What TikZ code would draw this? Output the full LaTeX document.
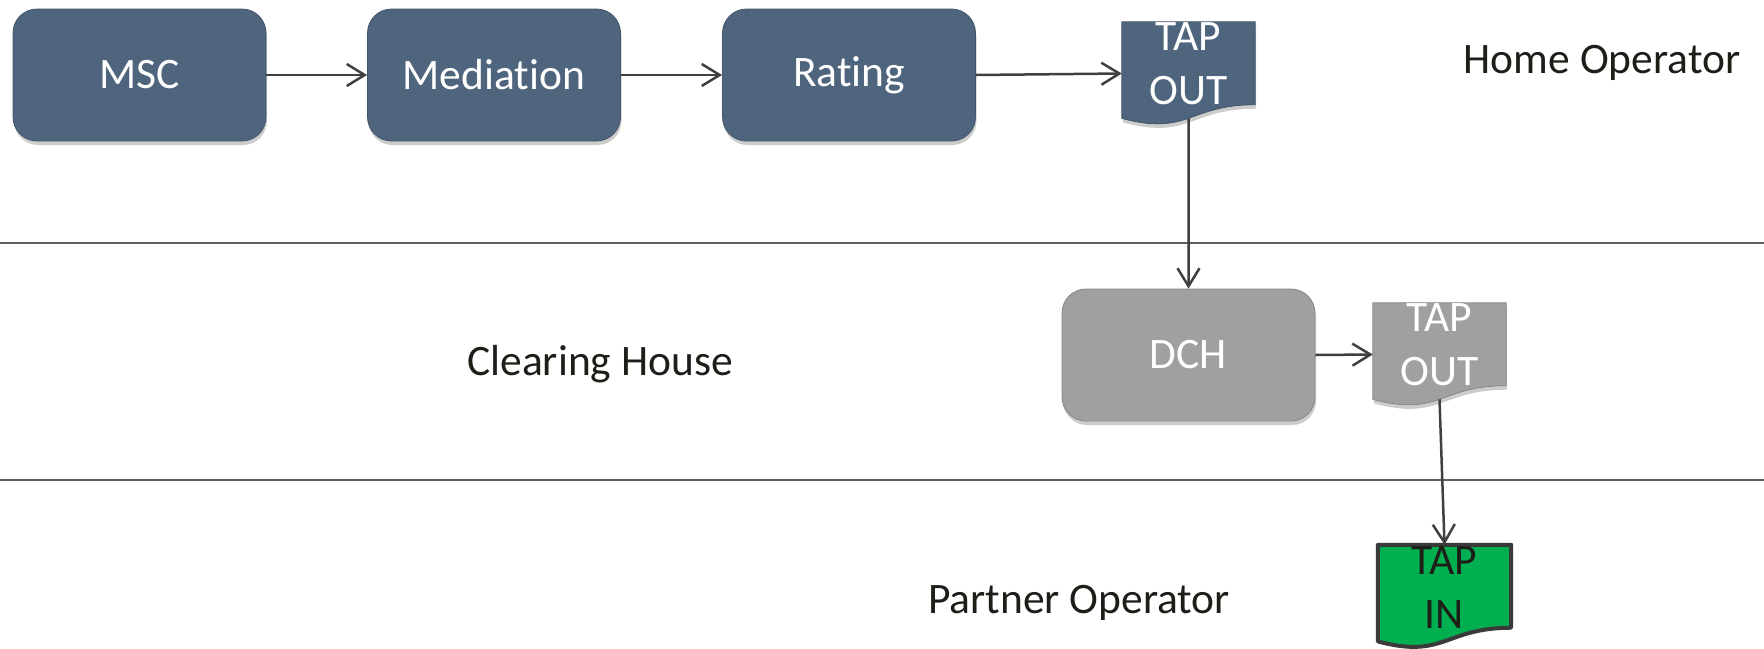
\documentclass[tikz,border=0pt]{standalone}
\usepackage{fontspec}
\setmainfont[Ligatures=NoCommon]{Carlito}
\usetikzlibrary{arrows.meta,shadows,calc}
\definecolor{boxblue}{RGB}{79,100,125}
\definecolor{boxgray}{RGB}{160,160,162}
\definecolor{tapgreen}{RGB}{0,176,80}
\definecolor{linegray}{RGB}{64,64,64}
\definecolor{sepgray}{RGB}{95,95,95}
\definecolor{txtdark}{RGB}{30,30,25}
\definecolor{docborder}{RGB}{58,58,58}
\newcommand\docpath[2]{%
  \path[#2] let \p1=(#1.north west), \p2=(#1.south east) in
    (\x1,\y1) -- (\x2,\y1) -- (\x2,{\y1+0.802*(\y2-\y1)})
    .. controls ({0.5*(\x1+\x2)},{\y1+0.802*(\y2-\y1)}) and ({0.5*(\x1+\x2)},{\y1+1.107*(\y2-\y1)})
    .. (\x1,{\y1+0.934*(\y2-\y1)}) -- cycle;}
\begin{document}
\begin{tikzpicture}[x=1pt,y=-1pt,
  bigfont/.style={font=\fontsize{43.5}{54}\selectfont},
  boxshadow/.style={drop shadow={shadow xshift=1pt,shadow yshift=-4pt,opacity=0.4}},
  procbox/.style={rounded corners=24pt, minimum width=253pt, minimum height=132pt, inner sep=0pt,
    bigfont, text=white, draw=#1!85!black, line width=0.8pt, fill=#1, boxshadow},
  docbox/.style={minimum width=133pt, minimum height=103pt, inner sep=0pt},
  doctext/.style={bigfont, align=center, inner sep=0pt},
  flow/.style={draw=linegray, line width=2.5pt, -{Straight Barb[length=18pt,width=22pt]}},
  sepline/.style={draw=sepgray, line width=2.5pt},
  lanelabel/.style={bigfont, text=txtdark, inner sep=0pt, anchor=base}]
\useasboundingbox (0,0) rectangle (1764,648);
% lane separators
\coordinate (l1a) at (0,243); \coordinate (l1b) at (1764,243);
\coordinate (l2a) at (0,480); \coordinate (l2b) at (1764,480);
\draw[sepline] (l1a) -- (l1b);
\draw[sepline] (l2a) -- (l2b);
% lane labels
\node[lanelabel] (home) at (1602,73) {Home Operator};
\node[lanelabel] (clear) at (600,375) {Clearing House};
\node[lanelabel] (partner) at (1079,613) {Partner Operator};
% process boxes
\node[procbox=boxblue] (msc) at (139.5,75) {MSC};
\node[procbox=boxblue] (med) at (494,75) {Mediation};
\node[procbox=boxblue] (rat) at (849,75) {Rating};
\node[procbox=boxgray] (dch) at (1188.5,355) {DCH};
% documents
\node[docbox] (tap1) at (1188.5,73.5) {};
\node[docbox] (tap2) at (1439.5,354.5) {};
\node[docbox] (tapin) at (1444.5,596.5) {};
\docpath{tap1}{fill=boxblue, draw=boxblue!85!black, line width=0.8pt, boxshadow}
\docpath{tap2}{fill=boxgray, draw=boxgray!85!black, line width=0.8pt, boxshadow}
\docpath{tapin}{fill=tapgreen, draw=docborder, line width=4pt, line join=round}
\node[doctext, text=white] (tap1t) at ($(tap1.north)!0.41!(tap1.south)$) {TAP\\OUT};
\node[doctext, text=white] (tap2t) at ($(tap2.north)!0.41!(tap2.south)$) {TAP\\OUT};
\node[doctext, text=txtdark] (tapint) at ($(tapin.north)!0.41!(tapin.south)$) {TAP\\IN};
% connectors
\draw[flow] (msc.east) -- (med.west);
\draw[flow] (med.east) -- (rat.west);
\draw[flow] (rat.east) -- (tap1.west);
\draw[flow] ($(tap1.north)!0.933!(tap1.south)$) -- (dch.north);
\draw[flow] (dch.east) -- (tap2.west);
\draw[flow] ($(tap2.north)!0.933!(tap2.south)$) -- (tapin.north);
\end{tikzpicture}
\end{document}
